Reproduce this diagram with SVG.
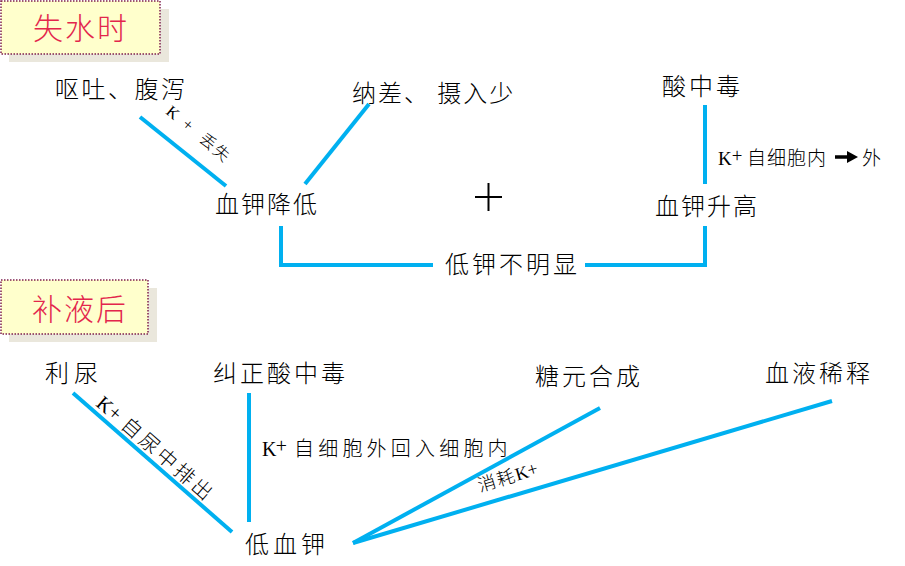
<svg xmlns="http://www.w3.org/2000/svg" width="905" height="566" viewBox="0 0 905 566">
<style>
.t{font-family:"Noto Sans CJK SC","Noto Sans",sans-serif;font-size:24px;font-weight:300;fill:#000;letter-spacing:2px}
.s{font-family:"Noto Sans CJK SC","Noto Sans",sans-serif;font-size:19px;font-weight:300;fill:#000}
.k{font-family:"Liberation Serif",serif;font-weight:normal}
.title{font-family:"Noto Sans CJK SC",sans-serif;font-size:30px;font-weight:300;fill:#E3264C;letter-spacing:2px}
.ln{stroke:#00B0F0;stroke-width:4;fill:none}
.box{fill:#FFFFCC;stroke:#7E1F4E;stroke-width:1.5;stroke-dasharray:1.5 1.5}
.shadow{fill:#EAE7DC}
</style>
<rect width="905" height="566" fill="#fff"/>
<g id="title1">
<rect class="shadow" x="9" y="9" width="160" height="53"/>
<rect class="box" x="1" y="1" width="159" height="53"/>
<text class="title" x="33" y="39">失水时</text>
</g>
<g id="title2">
<rect class="shadow" x="9" y="288" width="148" height="54"/>
<rect class="box" x="1" y="280" width="147" height="54"/>
<text class="title" x="32" y="320">补液后</text>
</g>
<g id="connectors">
<line class="ln" x1="140" y1="117" x2="226" y2="186"/>
<line class="ln" x1="305" y1="184" x2="369" y2="104"/>
<line class="ln" x1="705" y1="105" x2="705" y2="184"/>
<polyline class="ln" points="281,226 281,265 433,265"/>
<polyline class="ln" points="585,265 705,265 705,226"/>
<line class="ln" x1="73" y1="393" x2="232" y2="532"/>
<line class="ln" x1="249" y1="393" x2="249" y2="522"/>
<line class="ln" x1="353" y1="543" x2="600" y2="408"/>
<line class="ln" x1="353" y1="543" x2="832" y2="401"/>
<line x1="475" y1="197" x2="502" y2="197" stroke="#000" stroke-width="2"/>
<line x1="488.5" y1="183" x2="488.5" y2="211" stroke="#000" stroke-width="2"/>
</g>
<g id="n-vomit"><text class="t" x="55" y="98" style="letter-spacing:2.5px">呕吐、腹泻</text></g>
<g id="n-intake"><text class="t" x="352" y="102">纳差、 摄入少</text></g>
<g id="n-acid"><text class="t" x="662" y="95" style="letter-spacing:3px">酸中毒</text></g>
<g id="n-lowk"><text class="t" x="215" y="213">血钾降低</text></g>
<g id="n-highk"><text class="t" x="655" y="215">血钾升高</text></g>
<g id="n-notobvious"><text class="t" x="445" y="273" style="letter-spacing:3px">低钾不明显</text></g>
<g id="lbl-loss">
<text class="s" transform="translate(165,113) rotate(40)" style="font-size:16px"><tspan class="k" x="0">K</tspan><tspan x="21">+</tspan><tspan x="43" style="letter-spacing:2px">丢失</tspan></text>
</g>
<g id="lbl-shift">
<text class="s" x="718" y="165"><tspan class="k">K</tspan><tspan x="732" dy="-3" style="font-size:19px">+</tspan><tspan x="747" dy="3" style="letter-spacing:1px">自细胞内</tspan><tspan x="862">外</tspan></text>
<line x1="835" y1="157" x2="849" y2="157" stroke="#000" stroke-width="3.5"/>
<polygon points="847,151 858,157 847,163" fill="#000"/>
</g>
<g id="n-diuresis"><text class="t" x="45" y="382" style="letter-spacing:5px">利尿</text></g>
<g id="n-correct"><text class="t" x="213" y="382" style="letter-spacing:3px">纠正酸中毒</text></g>
<g id="n-glycogen"><text class="t" x="535" y="385" style="letter-spacing:3px">糖元合成</text></g>
<g id="n-dilution"><text class="t" x="765" y="382" style="letter-spacing:3px">血液稀释</text></g>
<g id="n-hypok"><text class="t" x="245" y="553" style="letter-spacing:4px">低血钾</text></g>
<g id="lbl-urine">
<text class="s" transform="translate(95,405) rotate(41.2)" style="font-size:20px"><tspan class="k" x="0">K</tspan><tspan x="15">+</tspan><tspan x="33" style="letter-spacing:3.25px">自尿中排出</tspan></text>
</g>
<g id="lbl-back">
<text class="s" x="262" y="456" style="font-size:20px"><tspan class="k">K</tspan><tspan x="276" dy="-3" style="font-size:20px">+</tspan><tspan x="294" dy="3" style="letter-spacing:4.2px">自细胞外回入细胞内</tspan></text>
</g>
<g id="lbl-consume">
<text class="s" transform="translate(480,492) rotate(-16.7)" style="font-size:18px"><tspan style="letter-spacing:1.5px">消耗</tspan><tspan class="k">K</tspan><tspan>+</tspan></text>
</g>
</svg>
